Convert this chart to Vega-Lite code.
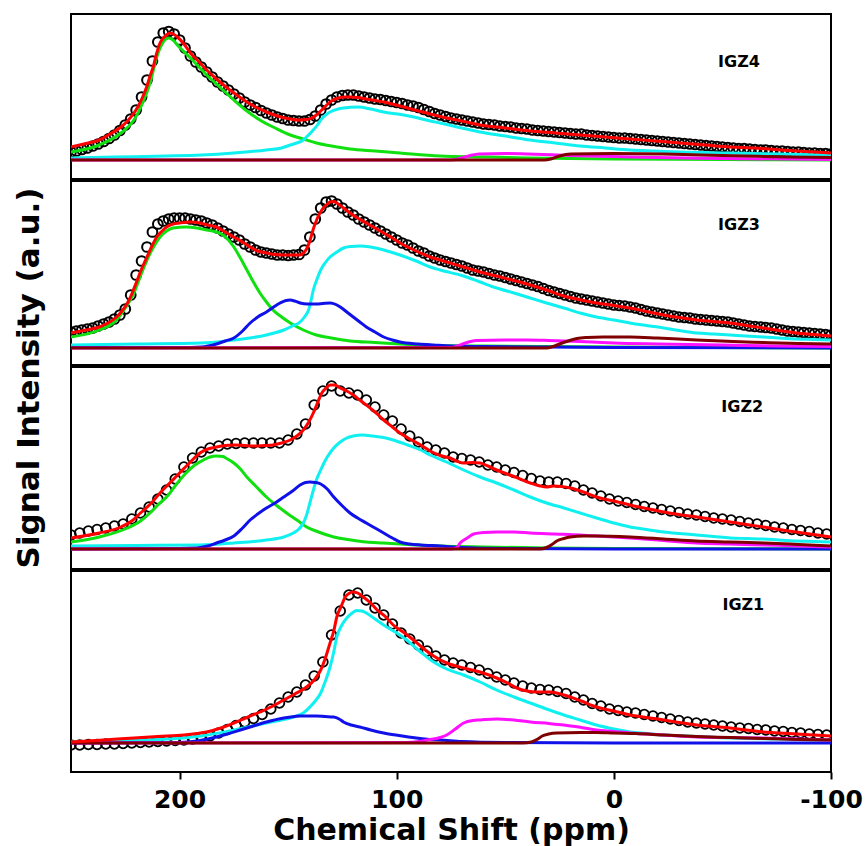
{
"$schema": "https://vega.github.io/schema/vega-lite/v6.json",
"padding": {"left": 11, "top": 13, "right": 0, "bottom": 0},
"background": "white",
"config": {"view": {"stroke": "black", "strokeWidth": 2}, "font": "DejaVu Sans", "axis": {"grid": false, "domain": false}},
"bounds": "flush",
"spacing": 2,
"datasets": {
"o4": [{"x":250,"y":27},{"x":247.5,"y":28},{"x":245,"y":29.5},{"x":242.5,"y":31},{"x":240,"y":33},{"x":237.5,"y":35},{"x":235,"y":37.5},{"x":232.5,"y":40.5},{"x":230,"y":44},{"x":227.5,"y":48.5},{"x":225,"y":54},{"x":222.5,"y":60},{"x":220,"y":69},{"x":217.5,"y":82},{"x":215,"y":99},{"x":212.5,"y":118},{"x":210,"y":137},{"x":207.5,"y":146},{"x":205,"y":147.5},{"x":202.5,"y":145},{"x":200,"y":139},{"x":197.5,"y":131},{"x":195,"y":123},{"x":192.5,"y":117},{"x":190,"y":112},{"x":187.5,"y":107},{"x":185,"y":102},{"x":182.5,"y":97},{"x":180,"y":93},{"x":177.5,"y":89},{"x":175,"y":85},{"x":172.5,"y":81},{"x":170,"y":77},{"x":167.5,"y":74},{"x":165,"y":71.5},{"x":162.5,"y":68.5},{"x":160,"y":66},{"x":157.5,"y":64},{"x":155,"y":62},{"x":152.5,"y":60.5},{"x":150,"y":59},{"x":147.5,"y":58.5},{"x":145,"y":58},{"x":142.5,"y":58},{"x":140,"y":59.5},{"x":137.5,"y":63},{"x":135,"y":69},{"x":132.5,"y":75},{"x":130,"y":79},{"x":127.5,"y":82},{"x":125,"y":83.5},{"x":122.5,"y":84},{"x":120,"y":84},{"x":117.5,"y":83},{"x":115,"y":82},{"x":112.5,"y":81},{"x":110,"y":80},{"x":107.5,"y":79.5},{"x":105,"y":78.5},{"x":102.5,"y":77.5},{"x":100,"y":76.5},{"x":97.5,"y":75.5},{"x":95,"y":74},{"x":92.5,"y":73},{"x":90,"y":71.5},{"x":87.5,"y":69.5},{"x":85,"y":67.5},{"x":82.5,"y":65.5},{"x":80,"y":64},{"x":77.5,"y":62.5},{"x":75,"y":61},{"x":72.5,"y":60},{"x":70,"y":59},{"x":67.5,"y":58},{"x":65,"y":57},{"x":62.5,"y":56},{"x":60,"y":55},{"x":57.5,"y":54.5},{"x":55,"y":54},{"x":52.5,"y":53},{"x":50,"y":52.5},{"x":47.5,"y":52},{"x":45,"y":51},{"x":42.5,"y":50.5},{"x":40,"y":50},{"x":37.5,"y":49},{"x":35,"y":48.5},{"x":32.5,"y":48},{"x":30,"y":47.5},{"x":27.5,"y":47},{"x":25,"y":46.5},{"x":22.5,"y":46},{"x":20,"y":45.5},{"x":17.5,"y":45},{"x":15,"y":45},{"x":12.5,"y":44},{"x":10,"y":43.5},{"x":7.5,"y":43},{"x":5,"y":42.5},{"x":2.5,"y":42},{"x":0,"y":41.5},{"x":-2.5,"y":41},{"x":-5,"y":41},{"x":-7.5,"y":40.5},{"x":-10,"y":40},{"x":-12.5,"y":39.5},{"x":-15,"y":39},{"x":-17.5,"y":38.5},{"x":-20,"y":38},{"x":-22.5,"y":37.5},{"x":-25,"y":37},{"x":-27.5,"y":36.5},{"x":-30,"y":36},{"x":-32.5,"y":35.5},{"x":-35,"y":35},{"x":-37.5,"y":34.5},{"x":-40,"y":34},{"x":-42.5,"y":33.5},{"x":-45,"y":33},{"x":-47.5,"y":32.5},{"x":-50,"y":32},{"x":-52.5,"y":31.5},{"x":-55,"y":31},{"x":-57.5,"y":30.5},{"x":-60,"y":30.5},{"x":-62.5,"y":30},{"x":-65,"y":29.5},{"x":-67.5,"y":29},{"x":-70,"y":29},{"x":-72.5,"y":28.5},{"x":-75,"y":28},{"x":-77.5,"y":28},{"x":-80,"y":27.5},{"x":-82.5,"y":27},{"x":-85,"y":27},{"x":-87.5,"y":26.5},{"x":-90,"y":26},{"x":-92.5,"y":26},{"x":-95,"y":25.5},{"x":-97.5,"y":25.5},{"x":-100,"y":25}],
"l4": [
{"s":"g","x":250,"y":27},{"s":"g","x":237,"y":34},{"s":"g","x":227,"y":46},{"s":"g","x":221,"y":59},{"s":"g","x":217,"y":76},{"s":"g","x":213.6,"y":96},{"s":"g","x":210.5,"y":122},{"s":"g","x":207.5,"y":137},{"s":"g","x":205,"y":141},{"s":"g","x":203,"y":139},{"s":"g","x":201,"y":134},{"s":"g","x":195,"y":121},{"s":"g","x":187.5,"y":104},{"s":"g","x":181,"y":91},{"s":"g","x":175,"y":79},{"s":"g","x":169,"y":68},{"s":"g","x":163,"y":59},{"s":"g","x":156,"y":51},{"s":"g","x":149,"y":44},{"s":"g","x":143,"y":40},{"s":"g","x":137,"y":36},{"s":"g","x":130,"y":33},{"s":"g","x":121.5,"y":30},{"s":"g","x":110,"y":28},{"s":"g","x":98.5,"y":26},{"s":"g","x":80,"y":23},{"s":"g","x":60,"y":22},{"s":"g","x":40,"y":21},{"s":"g","x":0,"y":20},{"s":"g","x":-50,"y":19.5},{"s":"g","x":-100,"y":19},
{"s":"c","x":250,"y":21},{"s":"c","x":230,"y":22},{"s":"c","x":206,"y":23},{"s":"c","x":190,"y":24},{"s":"c","x":175,"y":26},{"s":"c","x":160,"y":29},{"s":"c","x":153,"y":31},{"s":"c","x":149,"y":34},{"s":"c","x":146,"y":36},{"s":"c","x":143,"y":39},{"s":"c","x":140.6,"y":44},{"s":"c","x":138.4,"y":49},{"s":"c","x":136.5,"y":54},{"s":"c","x":135,"y":59},{"s":"c","x":132.8,"y":64},{"s":"c","x":130.7,"y":67},{"s":"c","x":127,"y":70},{"s":"c","x":124.5,"y":71},{"s":"c","x":118,"y":72},{"s":"c","x":112,"y":70},{"s":"c","x":106,"y":67},{"s":"c","x":98,"y":64.5},{"s":"c","x":91,"y":61.5},{"s":"c","x":84.6,"y":58},{"s":"c","x":80,"y":56},{"s":"c","x":70,"y":51},{"s":"c","x":61.6,"y":47},{"s":"c","x":50,"y":43},{"s":"c","x":38.5,"y":39},{"s":"c","x":27,"y":36},{"s":"c","x":15.5,"y":33},{"s":"c","x":4,"y":31},{"s":"c","x":-7.5,"y":29},{"s":"c","x":-19,"y":28},{"s":"c","x":-30.6,"y":27},{"s":"c","x":-53.6,"y":26},{"s":"c","x":-76,"y":25},{"s":"c","x":-100,"y":24},
{"s":"m","x":250,"y":19},{"s":"m","x":75,"y":19},{"s":"m","x":70,"y":21},{"s":"m","x":66,"y":23.5},{"s":"m","x":62,"y":25},{"s":"m","x":50,"y":25.5},{"s":"m","x":40,"y":25},{"s":"m","x":20,"y":23.5},{"s":"m","x":0,"y":22.5},{"s":"m","x":-20,"y":21.5},{"s":"m","x":-50,"y":20.5},{"s":"m","x":-100,"y":19.5},
{"s":"r","x":250,"y":19},{"s":"r","x":32,"y":19},{"s":"r","x":29,"y":20},{"s":"r","x":25,"y":23},{"s":"r","x":20,"y":25},{"s":"r","x":0,"y":25.5},{"s":"r","x":-23,"y":25},{"s":"r","x":-40,"y":24},{"s":"r","x":-60,"y":23},{"s":"r","x":-80,"y":22},{"s":"r","x":-100,"y":21.5},
{"s":"f","x":250,"y":32},{"s":"f","x":244,"y":35},{"s":"f","x":237,"y":39},{"s":"f","x":232,"y":45},{"s":"f","x":227,"y":52},{"s":"f","x":224,"y":58},{"s":"f","x":221,"y":66},{"s":"f","x":219,"y":73},{"s":"f","x":217,"y":82},{"s":"f","x":215,"y":93},{"s":"f","x":213.6,"y":103},{"s":"f","x":212,"y":113},{"s":"f","x":211,"y":122},{"s":"f","x":209,"y":136},{"s":"f","x":207.5,"y":141},{"s":"f","x":206,"y":144},{"s":"f","x":204.4,"y":146},{"s":"f","x":203,"y":145},{"s":"f","x":201,"y":142},{"s":"f","x":198,"y":135},{"s":"f","x":195,"y":126},{"s":"f","x":191,"y":117},{"s":"f","x":187.5,"y":109},{"s":"f","x":183,"y":100},{"s":"f","x":178,"y":91},{"s":"f","x":173,"y":83},{"s":"f","x":169,"y":77},{"s":"f","x":165,"y":72},{"s":"f","x":160,"y":67},{"s":"f","x":155,"y":63},{"s":"f","x":149,"y":60},{"s":"f","x":145,"y":59},{"s":"f","x":141.5,"y":59.5},{"s":"f","x":139,"y":61},{"s":"f","x":137,"y":64},{"s":"f","x":134.5,"y":69},{"s":"f","x":132,"y":74.5},{"s":"f","x":130,"y":78},{"s":"f","x":127.6,"y":80.5},{"s":"f","x":124,"y":82},{"s":"f","x":121.5,"y":82},{"s":"f","x":118,"y":81.5},{"s":"f","x":114,"y":80},{"s":"f","x":106,"y":77},{"s":"f","x":98.5,"y":73},{"s":"f","x":90,"y":68},{"s":"f","x":80,"y":62.5},{"s":"f","x":70,"y":58},{"s":"f","x":61.6,"y":54},{"s":"f","x":50,"y":51},{"s":"f","x":38.5,"y":48},{"s":"f","x":27,"y":46},{"s":"f","x":15.5,"y":44},{"s":"f","x":4,"y":42},{"s":"f","x":-7.5,"y":40},{"s":"f","x":-19,"y":38},{"s":"f","x":-30.6,"y":36},{"s":"f","x":-42,"y":34},{"s":"f","x":-53.6,"y":32},{"s":"f","x":-65,"y":31},{"s":"f","x":-76.6,"y":29},{"s":"f","x":-88,"y":27.5},{"s":"f","x":-100,"y":26}],
"o3": [{"x":250,"y":33},{"x":247.5,"y":34},{"x":245,"y":35},{"x":242.5,"y":36},{"x":240,"y":37},{"x":237.5,"y":39},{"x":235,"y":41},{"x":232.5,"y":43},{"x":230,"y":46},{"x":227.5,"y":50},{"x":225,"y":56},{"x":222.5,"y":70},{"x":220,"y":90},{"x":217.5,"y":104},{"x":215,"y":118},{"x":212.5,"y":133},{"x":210,"y":141},{"x":207.5,"y":144},{"x":205,"y":146},{"x":202.5,"y":147},{"x":200,"y":147},{"x":197.5,"y":147},{"x":195,"y":146},{"x":192.5,"y":145},{"x":190,"y":144},{"x":187.5,"y":142},{"x":185,"y":140},{"x":182.5,"y":137},{"x":180,"y":134},{"x":177.5,"y":131},{"x":175,"y":128},{"x":172.5,"y":125},{"x":170,"y":121},{"x":167.5,"y":118},{"x":165,"y":115},{"x":162.5,"y":113},{"x":160,"y":112},{"x":157.5,"y":111},{"x":155,"y":110},{"x":152.5,"y":110},{"x":150,"y":109.5},{"x":147.5,"y":110},{"x":145,"y":110.5},{"x":142.5,"y":115},{"x":140,"y":128},{"x":137.5,"y":146},{"x":135,"y":157},{"x":132.5,"y":163},{"x":130,"y":164},{"x":127.5,"y":161},{"x":125,"y":157},{"x":122.5,"y":153},{"x":120,"y":150},{"x":117.5,"y":146},{"x":115,"y":143},{"x":112.5,"y":140},{"x":110,"y":137},{"x":107.5,"y":134},{"x":105,"y":131},{"x":102.5,"y":128},{"x":100,"y":125},{"x":97.5,"y":122},{"x":95,"y":120},{"x":92.5,"y":117},{"x":90,"y":114},{"x":87.5,"y":112},{"x":85,"y":109},{"x":82.5,"y":107},{"x":80,"y":105},{"x":77.5,"y":103.5},{"x":75,"y":102},{"x":72.5,"y":100.5},{"x":70,"y":99},{"x":67.5,"y":97},{"x":65,"y":95},{"x":62.5,"y":94},{"x":60,"y":93},{"x":57.5,"y":91.5},{"x":55,"y":90},{"x":52.5,"y":89},{"x":50,"y":87.5},{"x":47.5,"y":86},{"x":45,"y":84.5},{"x":42.5,"y":83},{"x":40,"y":81.5},{"x":37.5,"y":80},{"x":35,"y":78.5},{"x":32.5,"y":76.5},{"x":30,"y":74.5},{"x":27.5,"y":73},{"x":25,"y":71.5},{"x":22.5,"y":70},{"x":20,"y":68.5},{"x":17.5,"y":67},{"x":15,"y":66},{"x":12.5,"y":65},{"x":10,"y":64},{"x":7.5,"y":63},{"x":5,"y":62},{"x":2.5,"y":61},{"x":0,"y":60},{"x":-2.5,"y":59.5},{"x":-5,"y":59},{"x":-7.5,"y":58},{"x":-10,"y":57},{"x":-12.5,"y":55.5},{"x":-15,"y":54},{"x":-17.5,"y":53},{"x":-20,"y":52},{"x":-22.5,"y":51},{"x":-25,"y":50},{"x":-27.5,"y":49},{"x":-30,"y":48},{"x":-32.5,"y":47.5},{"x":-35,"y":47},{"x":-37.5,"y":46},{"x":-40,"y":45.5},{"x":-42.5,"y":45},{"x":-45,"y":44.5},{"x":-47.5,"y":44},{"x":-50,"y":43.5},{"x":-52.5,"y":43},{"x":-55,"y":42},{"x":-57.5,"y":41},{"x":-60,"y":40},{"x":-62.5,"y":39},{"x":-65,"y":38.5},{"x":-67.5,"y":38},{"x":-70,"y":37.5},{"x":-72.5,"y":37},{"x":-75,"y":36},{"x":-77.5,"y":35},{"x":-80,"y":34},{"x":-82.5,"y":33.5},{"x":-85,"y":33},{"x":-87.5,"y":32.5},{"x":-90,"y":32},{"x":-92.5,"y":31.5},{"x":-95,"y":31},{"x":-97.5,"y":30.5},{"x":-100,"y":30}],
"l3": [
{"s":"g","x":250,"y":28},{"s":"g","x":237,"y":35},{"s":"g","x":229,"y":45},{"s":"g","x":225,"y":57},{"s":"g","x":221,"y":72},{"s":"g","x":218,"y":89},{"s":"g","x":215,"y":105},{"s":"g","x":212,"y":118},{"s":"g","x":209,"y":128},{"s":"g","x":206,"y":134},{"s":"g","x":203,"y":137},{"s":"g","x":197,"y":138},{"s":"g","x":192,"y":137},{"s":"g","x":187.5,"y":135},{"s":"g","x":183,"y":133},{"s":"g","x":180,"y":130},{"s":"g","x":177.5,"y":125},{"s":"g","x":175,"y":118},{"s":"g","x":172,"y":107},{"s":"g","x":169,"y":95},{"s":"g","x":166,"y":83},{"s":"g","x":163,"y":72},{"s":"g","x":160,"y":63},{"s":"g","x":157,"y":55},{"s":"g","x":153,"y":48},{"s":"g","x":149,"y":42},{"s":"g","x":143,"y":35},{"s":"g","x":137,"y":30},{"s":"g","x":130,"y":27},{"s":"g","x":121.5,"y":24},{"s":"g","x":110,"y":22.5},{"s":"g","x":98.5,"y":21},{"s":"g","x":83,"y":19.5},{"s":"g","x":60,"y":19},{"s":"g","x":30,"y":18.5},{"s":"g","x":0,"y":18},{"s":"g","x":-100,"y":17},
{"s":"c","x":250,"y":20},{"s":"c","x":220,"y":21},{"s":"c","x":190,"y":22},{"s":"c","x":175,"y":25},{"s":"c","x":167.5,"y":27},{"s":"c","x":160,"y":30},{"s":"c","x":152,"y":35},{"s":"c","x":148,"y":39},{"s":"c","x":144.5,"y":43},{"s":"c","x":142.5,"y":48},{"s":"c","x":140.6,"y":55},{"s":"c","x":139.5,"y":64},{"s":"c","x":138.4,"y":75},{"s":"c","x":136.5,"y":87},{"s":"c","x":135,"y":95},{"s":"c","x":133,"y":102},{"s":"c","x":130.7,"y":108},{"s":"c","x":127.6,"y":113},{"s":"c","x":124.5,"y":117},{"s":"c","x":121,"y":118.5},{"s":"c","x":117,"y":119},{"s":"c","x":112,"y":118},{"s":"c","x":106,"y":115},{"s":"c","x":98.5,"y":110},{"s":"c","x":91,"y":104},{"s":"c","x":84.6,"y":98},{"s":"c","x":80,"y":95},{"s":"c","x":69.2,"y":89},{"s":"c","x":61.6,"y":83},{"s":"c","x":54,"y":77},{"s":"c","x":46,"y":72},{"s":"c","x":38.5,"y":67},{"s":"c","x":31,"y":62},{"s":"c","x":23,"y":57},{"s":"c","x":15.5,"y":52},{"s":"c","x":8,"y":48},{"s":"c","x":0,"y":45},{"s":"c","x":-7.5,"y":42},{"s":"c","x":-15,"y":39.5},{"s":"c","x":-23,"y":37},{"s":"c","x":-30,"y":34.5},{"s":"c","x":-38.2,"y":32},{"s":"c","x":-46,"y":31},{"s":"c","x":-53.6,"y":30},{"s":"c","x":-61,"y":29},{"s":"c","x":-69,"y":28},{"s":"c","x":-76,"y":27},{"s":"c","x":-84,"y":26},{"s":"c","x":-92,"y":25.5},{"s":"c","x":-100,"y":25},
{"s":"b","x":250,"y":17.5},{"s":"b","x":200,"y":17.5},{"s":"b","x":190,"y":18},{"s":"b","x":183,"y":21},{"s":"b","x":179,"y":24},{"s":"b","x":175,"y":27},{"s":"b","x":171,"y":34},{"s":"b","x":167.5,"y":42},{"s":"b","x":164,"y":48},{"s":"b","x":160,"y":53},{"s":"b","x":156,"y":59},{"s":"b","x":153.7,"y":62},{"s":"b","x":151,"y":64.5},{"s":"b","x":149,"y":65},{"s":"b","x":147,"y":64},{"s":"b","x":144.5,"y":62},{"s":"b","x":141,"y":61},{"s":"b","x":137,"y":61},{"s":"b","x":134,"y":61.5},{"s":"b","x":130.7,"y":62},{"s":"b","x":128,"y":60.5},{"s":"b","x":126,"y":58},{"s":"b","x":123,"y":53},{"s":"b","x":120,"y":48},{"s":"b","x":117,"y":43},{"s":"b","x":114,"y":38},{"s":"b","x":110,"y":33},{"s":"b","x":106,"y":28},{"s":"b","x":102,"y":25},{"s":"b","x":98.5,"y":23},{"s":"b","x":90,"y":21},{"s":"b","x":83,"y":20},{"s":"b","x":75,"y":19},{"s":"b","x":60,"y":18.5},{"s":"b","x":30,"y":18},{"s":"b","x":0,"y":17.5},{"s":"b","x":-100,"y":17},
{"s":"m","x":250,"y":17},{"s":"m","x":75,"y":17.5},{"s":"m","x":72,"y":19},{"s":"m","x":69,"y":21.5},{"s":"m","x":66,"y":23.5},{"s":"m","x":63,"y":24.5},{"s":"m","x":50,"y":25},{"s":"m","x":40,"y":25},{"s":"m","x":30,"y":24.5},{"s":"m","x":23,"y":24},{"s":"m","x":10,"y":23},{"s":"m","x":0,"y":22},{"s":"m","x":-20,"y":21},{"s":"m","x":-50,"y":20},{"s":"m","x":-75,"y":19},{"s":"m","x":-100,"y":18.5},
{"s":"r","x":250,"y":17},{"s":"r","x":31,"y":17},{"s":"r","x":28,"y":18.5},{"s":"r","x":25,"y":21},{"s":"r","x":21,"y":24},{"s":"r","x":17,"y":26.5},{"s":"r","x":12.5,"y":27.5},{"s":"r","x":5,"y":28},{"s":"r","x":-7.5,"y":28},{"s":"r","x":-20,"y":27},{"s":"r","x":-38,"y":25},{"s":"r","x":-55,"y":23.5},{"s":"r","x":-69,"y":22.5},{"s":"r","x":-85,"y":21.5},{"s":"r","x":-100,"y":21},
{"s":"f","x":250,"y":32},{"s":"f","x":243,"y":35},{"s":"f","x":237,"y":38},{"s":"f","x":233,"y":42},{"s":"f","x":229,"y":48},{"s":"f","x":226.5,"y":54},{"s":"f","x":224,"y":62},{"s":"f","x":222,"y":71},{"s":"f","x":220,"y":82},{"s":"f","x":217.5,"y":96},{"s":"f","x":215,"y":108},{"s":"f","x":212.5,"y":120},{"s":"f","x":210.5,"y":128},{"s":"f","x":208,"y":134},{"s":"f","x":206,"y":138},{"s":"f","x":203,"y":141},{"s":"f","x":200,"y":142},{"s":"f","x":195,"y":143},{"s":"f","x":190.6,"y":142},{"s":"f","x":187,"y":140},{"s":"f","x":183,"y":138},{"s":"f","x":179,"y":133},{"s":"f","x":175,"y":128},{"s":"f","x":171,"y":123},{"s":"f","x":167.5,"y":118},{"s":"f","x":164,"y":114},{"s":"f","x":160,"y":112},{"s":"f","x":156,"y":110.5},{"s":"f","x":152,"y":110},{"s":"f","x":148,"y":110},{"s":"f","x":144.5,"y":110},{"s":"f","x":142.5,"y":113},{"s":"f","x":141.5,"y":116},{"s":"f","x":140,"y":124},{"s":"f","x":138.4,"y":136},{"s":"f","x":136.5,"y":147},{"s":"f","x":134.5,"y":155},{"s":"f","x":132.5,"y":160},{"s":"f","x":130.7,"y":163},{"s":"f","x":129,"y":163.5},{"s":"f","x":127.6,"y":162},{"s":"f","x":124.5,"y":157},{"s":"f","x":121.5,"y":152},{"s":"f","x":118,"y":147},{"s":"f","x":114,"y":142},{"s":"f","x":110,"y":137},{"s":"f","x":106,"y":132},{"s":"f","x":102,"y":127},{"s":"f","x":98.5,"y":122},{"s":"f","x":94,"y":117},{"s":"f","x":89,"y":112},{"s":"f","x":84.6,"y":108},{"s":"f","x":80,"y":105},{"s":"f","x":69.2,"y":98},{"s":"f","x":61.6,"y":93},{"s":"f","x":54,"y":89},{"s":"f","x":46,"y":84.5},{"s":"f","x":38.5,"y":80},{"s":"f","x":31,"y":75},{"s":"f","x":23,"y":69},{"s":"f","x":15,"y":65},{"s":"f","x":8,"y":62},{"s":"f","x":0,"y":59.5},{"s":"f","x":-7.5,"y":57},{"s":"f","x":-15,"y":53.5},{"s":"f","x":-23,"y":50},{"s":"f","x":-30,"y":47.5},{"s":"f","x":-38.2,"y":45},{"s":"f","x":-46,"y":43.5},{"s":"f","x":-53.6,"y":42},{"s":"f","x":-61,"y":39.5},{"s":"f","x":-69,"y":37},{"s":"f","x":-76,"y":34.5},{"s":"f","x":-84,"y":32},{"s":"f","x":-92,"y":30.5},{"s":"f","x":-100,"y":29}],
"o2": [{"x":250,"y":34},{"x":246,"y":36},{"x":242,"y":38},{"x":238,"y":39.5},{"x":234,"y":41},{"x":230,"y":43},{"x":226,"y":45},{"x":222,"y":50},{"x":218,"y":56},{"x":214,"y":62},{"x":210,"y":70},{"x":206,"y":79},{"x":202,"y":90},{"x":198,"y":102},{"x":194,"y":111},{"x":190,"y":117},{"x":186,"y":121},{"x":182,"y":123},{"x":178,"y":125},{"x":174,"y":125.5},{"x":170,"y":126},{"x":166,"y":126},{"x":162,"y":126},{"x":158,"y":126},{"x":154,"y":126},{"x":150,"y":129},{"x":146,"y":135},{"x":142,"y":145},{"x":138,"y":164},{"x":134,"y":178},{"x":130,"y":183},{"x":126,"y":178},{"x":122,"y":176},{"x":118,"y":174},{"x":114,"y":169},{"x":110,"y":162},{"x":106,"y":154},{"x":102,"y":148},{"x":98,"y":140},{"x":94,"y":133},{"x":90,"y":127},{"x":86,"y":122},{"x":82,"y":119},{"x":78,"y":116},{"x":74,"y":112},{"x":70,"y":110.5},{"x":66,"y":109},{"x":62,"y":107},{"x":58,"y":104},{"x":54,"y":102},{"x":50,"y":99},{"x":46,"y":96.5},{"x":42,"y":93.5},{"x":38,"y":90.5},{"x":34,"y":88},{"x":30,"y":87},{"x":26,"y":87},{"x":22,"y":85.5},{"x":18,"y":83},{"x":14,"y":79},{"x":10,"y":76},{"x":6,"y":73},{"x":2,"y":70},{"x":-2,"y":68},{"x":-6,"y":66.5},{"x":-10,"y":64.5},{"x":-14,"y":62.5},{"x":-18,"y":61},{"x":-22,"y":59.5},{"x":-26,"y":58},{"x":-30,"y":56.5},{"x":-34,"y":55},{"x":-38,"y":54},{"x":-42,"y":52.5},{"x":-46,"y":51},{"x":-50,"y":50},{"x":-54,"y":49},{"x":-58,"y":47.5},{"x":-62,"y":46},{"x":-66,"y":45},{"x":-70,"y":43.5},{"x":-74,"y":42},{"x":-78,"y":41},{"x":-82,"y":39.5},{"x":-86,"y":38.5},{"x":-90,"y":37.5},{"x":-94,"y":36},{"x":-98,"y":35}],
"l2": [
{"s":"g","x":250,"y":27},{"s":"g","x":237,"y":32},{"s":"g","x":224,"y":41},{"s":"g","x":218,"y":48},{"s":"g","x":213.6,"y":56},{"s":"g","x":210,"y":64},{"s":"g","x":206,"y":72},{"s":"g","x":201,"y":86},{"s":"g","x":197,"y":96},{"s":"g","x":193,"y":104},{"s":"g","x":189,"y":109},{"s":"g","x":186,"y":112},{"s":"g","x":183,"y":113},{"s":"g","x":180,"y":112.5},{"s":"g","x":178.7,"y":111},{"s":"g","x":175,"y":106},{"s":"g","x":172,"y":100},{"s":"g","x":169,"y":92},{"s":"g","x":165,"y":83},{"s":"g","x":160,"y":72},{"s":"g","x":155,"y":63},{"s":"g","x":150.7,"y":56},{"s":"g","x":146,"y":49},{"s":"g","x":141.5,"y":42},{"s":"g","x":136,"y":37},{"s":"g","x":129,"y":32},{"s":"g","x":121,"y":29},{"s":"g","x":114,"y":27},{"s":"g","x":106,"y":26},{"s":"g","x":98.5,"y":25},{"s":"g","x":80,"y":23},{"s":"g","x":60,"y":22},{"s":"g","x":30,"y":21},{"s":"g","x":0,"y":20.5},{"s":"g","x":-100,"y":20},
{"s":"c","x":250,"y":23},{"s":"c","x":220,"y":23.5},{"s":"c","x":190.6,"y":24},{"s":"c","x":175,"y":26},{"s":"c","x":160,"y":29},{"s":"c","x":152,"y":32},{"s":"c","x":147.6,"y":36},{"s":"c","x":145,"y":40},{"s":"c","x":143,"y":46},{"s":"c","x":141.5,"y":54},{"s":"c","x":140,"y":66},{"s":"c","x":138.5,"y":78},{"s":"c","x":137,"y":89},{"s":"c","x":135,"y":99},{"s":"c","x":133.5,"y":106},{"s":"c","x":132,"y":112},{"s":"c","x":129,"y":121},{"s":"c","x":126,"y":127},{"s":"c","x":123,"y":131},{"s":"c","x":120,"y":133},{"s":"c","x":116,"y":134},{"s":"c","x":111,"y":133},{"s":"c","x":106,"y":131.5},{"s":"c","x":101.6,"y":129},{"s":"c","x":95,"y":124},{"s":"c","x":89,"y":119},{"s":"c","x":84.6,"y":114},{"s":"c","x":77,"y":107},{"s":"c","x":69.2,"y":99},{"s":"c","x":61.6,"y":92},{"s":"c","x":54,"y":86},{"s":"c","x":46,"y":79},{"s":"c","x":38.5,"y":72},{"s":"c","x":31,"y":66},{"s":"c","x":23,"y":61},{"s":"c","x":15.5,"y":56},{"s":"c","x":8,"y":51},{"s":"c","x":0,"y":46},{"s":"c","x":-7.5,"y":42},{"s":"c","x":-15,"y":39.5},{"s":"c","x":-23,"y":37},{"s":"c","x":-30,"y":35.5},{"s":"c","x":-38.2,"y":34},{"s":"c","x":-46,"y":32.5},{"s":"c","x":-53.6,"y":31},{"s":"c","x":-61,"y":30.5},{"s":"c","x":-69,"y":30},{"s":"c","x":-76,"y":29},{"s":"c","x":-84,"y":28},{"s":"c","x":-92,"y":27.5},{"s":"c","x":-100,"y":27},
{"s":"b","x":250,"y":20},{"s":"b","x":200,"y":20.5},{"s":"b","x":192,"y":21},{"s":"b","x":187,"y":23},{"s":"b","x":183,"y":26},{"s":"b","x":179,"y":29},{"s":"b","x":175,"y":33},{"s":"b","x":171,"y":41},{"s":"b","x":167.5,"y":49},{"s":"b","x":164,"y":55},{"s":"b","x":160,"y":61},{"s":"b","x":156,"y":66},{"s":"b","x":152,"y":72},{"s":"b","x":148,"y":78},{"s":"b","x":144.5,"y":84},{"s":"b","x":142,"y":86.5},{"s":"b","x":140,"y":87},{"s":"b","x":137.5,"y":86.5},{"s":"b","x":135,"y":85},{"s":"b","x":132,"y":80},{"s":"b","x":129,"y":72},{"s":"b","x":125,"y":63},{"s":"b","x":121.5,"y":56},{"s":"b","x":118,"y":51},{"s":"b","x":114,"y":46},{"s":"b","x":110,"y":41},{"s":"b","x":106,"y":36},{"s":"b","x":102,"y":31},{"s":"b","x":98.5,"y":27},{"s":"b","x":94,"y":25},{"s":"b","x":89,"y":24},{"s":"b","x":80,"y":23},{"s":"b","x":70,"y":21.5},{"s":"b","x":50,"y":20.5},{"s":"b","x":0,"y":20},{"s":"b","x":-100,"y":20},
{"s":"m","x":250,"y":20},{"s":"m","x":75,"y":20},{"s":"m","x":72.5,"y":21},{"s":"m","x":70.8,"y":26},{"s":"m","x":67.5,"y":31},{"s":"m","x":64.6,"y":35},{"s":"m","x":60,"y":36.5},{"s":"m","x":54,"y":37},{"s":"m","x":46,"y":37},{"s":"m","x":38.5,"y":36},{"s":"m","x":27,"y":35},{"s":"m","x":15.5,"y":34},{"s":"m","x":4,"y":32.5},{"s":"m","x":-7.5,"y":31},{"s":"m","x":-23,"y":28.5},{"s":"m","x":-38,"y":26},{"s":"m","x":-53,"y":25},{"s":"m","x":-69,"y":24},{"s":"m","x":-85,"y":23},{"s":"m","x":-100,"y":22},
{"s":"r","x":250,"y":20},{"s":"r","x":34,"y":20},{"s":"r","x":31,"y":21.5},{"s":"r","x":28.5,"y":24.5},{"s":"r","x":26.3,"y":28},{"s":"r","x":23,"y":30.5},{"s":"r","x":20,"y":32},{"s":"r","x":14,"y":33},{"s":"r","x":8,"y":33},{"s":"r","x":-7.5,"y":32},{"s":"r","x":-23,"y":30},{"s":"r","x":-38,"y":28},{"s":"r","x":-53,"y":27},{"s":"r","x":-69,"y":26},{"s":"r","x":-85,"y":24.5},{"s":"r","x":-100,"y":23},
{"s":"f","x":250,"y":31},{"s":"f","x":237,"y":36},{"s":"f","x":227,"y":42},{"s":"f","x":222,"y":48},{"s":"f","x":218,"y":56},{"s":"f","x":213,"y":66},{"s":"f","x":209,"y":76},{"s":"f","x":204.5,"y":86},{"s":"f","x":200,"y":96},{"s":"f","x":195,"y":107},{"s":"f","x":190.6,"y":116},{"s":"f","x":187,"y":120},{"s":"f","x":183,"y":122},{"s":"f","x":179,"y":123.5},{"s":"f","x":175,"y":124},{"s":"f","x":170,"y":123.5},{"s":"f","x":166,"y":123},{"s":"f","x":161,"y":123.5},{"s":"f","x":157,"y":124},{"s":"f","x":153,"y":126},{"s":"f","x":149,"y":129},{"s":"f","x":146,"y":133},{"s":"f","x":143,"y":139},{"s":"f","x":140.5,"y":147},{"s":"f","x":138.4,"y":156},{"s":"f","x":136.5,"y":166},{"s":"f","x":134.5,"y":176},{"s":"f","x":132.5,"y":181},{"s":"f","x":130.7,"y":184},{"s":"f","x":128.5,"y":184},{"s":"f","x":126,"y":181},{"s":"f","x":123,"y":178},{"s":"f","x":120,"y":174},{"s":"f","x":117,"y":169},{"s":"f","x":114,"y":164},{"s":"f","x":110,"y":157},{"s":"f","x":106,"y":149},{"s":"f","x":102,"y":142},{"s":"f","x":98.5,"y":136},{"s":"f","x":94,"y":130},{"s":"f","x":89,"y":124},{"s":"f","x":84.6,"y":118},{"s":"f","x":80,"y":113.5},{"s":"f","x":75.4,"y":111},{"s":"f","x":72,"y":107.5},{"s":"f","x":69.2,"y":106},{"s":"f","x":65,"y":106.5},{"s":"f","x":61.6,"y":106},{"s":"f","x":58,"y":103},{"s":"f","x":54,"y":99},{"s":"f","x":46,"y":92.5},{"s":"f","x":38.5,"y":86},{"s":"f","x":34,"y":83},{"s":"f","x":31,"y":82},{"s":"f","x":27.8,"y":83},{"s":"f","x":24,"y":82.5},{"s":"f","x":20,"y":81},{"s":"f","x":14,"y":77},{"s":"f","x":8,"y":72},{"s":"f","x":0,"y":68},{"s":"f","x":-7.5,"y":64},{"s":"f","x":-15,"y":60.5},{"s":"f","x":-23,"y":57},{"s":"f","x":-30,"y":54.5},{"s":"f","x":-38.2,"y":52},{"s":"f","x":-46,"y":49.5},{"s":"f","x":-53.6,"y":47},{"s":"f","x":-61,"y":44.5},{"s":"f","x":-69,"y":42},{"s":"f","x":-76,"y":39.5},{"s":"f","x":-84,"y":37},{"s":"f","x":-92,"y":34.5},{"s":"f","x":-100,"y":32}],
"o1": [{"x":250,"y":27},{"x":246,"y":27},{"x":242,"y":27.5},{"x":238,"y":27.5},{"x":234,"y":28},{"x":230,"y":28},{"x":226,"y":28.5},{"x":222,"y":29},{"x":218,"y":29.5},{"x":214,"y":30},{"x":210,"y":30.5},{"x":206,"y":31},{"x":202,"y":31.5},{"x":198,"y":32},{"x":194,"y":33},{"x":190,"y":34},{"x":186,"y":36},{"x":182,"y":39},{"x":178,"y":42.5},{"x":174,"y":46.5},{"x":170,"y":50},{"x":166,"y":53.5},{"x":162,"y":57.5},{"x":158,"y":63},{"x":154,"y":69},{"x":150,"y":75},{"x":146,"y":80},{"x":142,"y":87},{"x":138,"y":96},{"x":134,"y":110},{"x":130,"y":137},{"x":126,"y":161},{"x":122,"y":177},{"x":118,"y":179},{"x":114,"y":172},{"x":110,"y":164},{"x":106,"y":157},{"x":102,"y":148},{"x":98,"y":139},{"x":94,"y":133},{"x":90,"y":127},{"x":86,"y":121},{"x":82,"y":116},{"x":78,"y":112},{"x":74,"y":109},{"x":70,"y":107},{"x":66,"y":104.5},{"x":62,"y":102},{"x":58,"y":98.5},{"x":54,"y":95},{"x":50,"y":92},{"x":46,"y":89},{"x":42,"y":86},{"x":38,"y":84},{"x":34,"y":82.5},{"x":30,"y":82},{"x":26,"y":80.5},{"x":22,"y":78.5},{"x":18,"y":75},{"x":14,"y":72},{"x":10,"y":68.5},{"x":6,"y":66},{"x":2,"y":63},{"x":-2,"y":61.5},{"x":-6,"y":60},{"x":-10,"y":59},{"x":-14,"y":57.5},{"x":-18,"y":56},{"x":-22,"y":54.5},{"x":-26,"y":53},{"x":-30,"y":51.5},{"x":-34,"y":50},{"x":-38,"y":49},{"x":-42,"y":48},{"x":-46,"y":47},{"x":-50,"y":46},{"x":-54,"y":45},{"x":-58,"y":44},{"x":-62,"y":43.5},{"x":-66,"y":42.5},{"x":-70,"y":42},{"x":-74,"y":41},{"x":-78,"y":40.5},{"x":-82,"y":39.5},{"x":-86,"y":39},{"x":-90,"y":38},{"x":-94,"y":37.5},{"x":-98,"y":37}],
"l1": [
{"s":"c","x":250,"y":30},{"s":"c","x":230,"y":31},{"s":"c","x":210,"y":32.5},{"s":"c","x":198,"y":34},{"s":"c","x":190,"y":36},{"s":"c","x":175,"y":42},{"s":"c","x":167.5,"y":45.5},{"s":"c","x":160,"y":49},{"s":"c","x":153,"y":52},{"s":"c","x":147.6,"y":55},{"s":"c","x":143,"y":59},{"s":"c","x":140,"y":65},{"s":"c","x":137.5,"y":71},{"s":"c","x":135,"y":79},{"s":"c","x":133,"y":90},{"s":"c","x":130.7,"y":105},{"s":"c","x":129,"y":120},{"s":"c","x":127.6,"y":135},{"s":"c","x":125.5,"y":146},{"s":"c","x":123,"y":154},{"s":"c","x":120.5,"y":159},{"s":"c","x":118.4,"y":161.5},{"s":"c","x":116,"y":161},{"s":"c","x":114,"y":159},{"s":"c","x":110,"y":153},{"s":"c","x":106,"y":147},{"s":"c","x":100,"y":139},{"s":"c","x":95.4,"y":132},{"s":"c","x":89,"y":120},{"s":"c","x":83,"y":110},{"s":"c","x":77,"y":103},{"s":"c","x":69.2,"y":97},{"s":"c","x":61.6,"y":90},{"s":"c","x":54,"y":82},{"s":"c","x":46,"y":75},{"s":"c","x":38.5,"y":69},{"s":"c","x":31,"y":63},{"s":"c","x":23,"y":57},{"s":"c","x":15.5,"y":52},{"s":"c","x":8,"y":47},{"s":"c","x":0,"y":43},{"s":"c","x":-7.5,"y":40},{"s":"c","x":-15,"y":38.5},{"s":"c","x":-23,"y":37},{"s":"c","x":-38,"y":35.5},{"s":"c","x":-53.6,"y":34},{"s":"c","x":-76,"y":33},{"s":"c","x":-100,"y":32},
{"s":"b","x":250,"y":29},{"s":"b","x":200,"y":29.5},{"s":"b","x":192,"y":31},{"s":"b","x":185,"y":34},{"s":"b","x":178,"y":38},{"s":"b","x":172,"y":42},{"s":"b","x":167.5,"y":45},{"s":"b","x":160,"y":50},{"s":"b","x":152,"y":54},{"s":"b","x":147,"y":55.5},{"s":"b","x":144.5,"y":56},{"s":"b","x":140,"y":56},{"s":"b","x":137,"y":56},{"s":"b","x":133,"y":55.5},{"s":"b","x":129,"y":55},{"s":"b","x":126.5,"y":53},{"s":"b","x":124.5,"y":50},{"s":"b","x":121,"y":47},{"s":"b","x":117,"y":45},{"s":"b","x":112,"y":42},{"s":"b","x":106,"y":39},{"s":"b","x":99,"y":36.5},{"s":"b","x":91,"y":34},{"s":"b","x":85,"y":32.5},{"s":"b","x":80,"y":32},{"s":"b","x":70,"y":30.5},{"s":"b","x":50,"y":29.5},{"s":"b","x":0,"y":29},{"s":"b","x":-100,"y":29},
{"s":"m","x":250,"y":29},{"s":"m","x":95,"y":29.5},{"s":"m","x":88,"y":31},{"s":"m","x":84.6,"y":32.5},{"s":"m","x":80,"y":34.5},{"s":"m","x":77,"y":37},{"s":"m","x":73,"y":43},{"s":"m","x":69.2,"y":49},{"s":"m","x":65,"y":51.5},{"s":"m","x":61.6,"y":52},{"s":"m","x":54,"y":53},{"s":"m","x":46,"y":52},{"s":"m","x":38.5,"y":50},{"s":"m","x":30,"y":48.5},{"s":"m","x":23,"y":47},{"s":"m","x":15,"y":44.5},{"s":"m","x":8,"y":42},{"s":"m","x":0,"y":40.5},{"s":"m","x":-7.5,"y":39},{"s":"m","x":-23,"y":37},{"s":"m","x":-38,"y":35},{"s":"m","x":-53,"y":34.5},{"s":"m","x":-69,"y":34},{"s":"m","x":-85,"y":33},{"s":"m","x":-100,"y":32},
{"s":"r","x":250,"y":29},{"s":"r","x":42,"y":29},{"s":"r","x":38,"y":30},{"s":"r","x":35,"y":33},{"s":"r","x":33,"y":36},{"s":"r","x":30,"y":38},{"s":"r","x":26.3,"y":39},{"s":"r","x":15,"y":39.5},{"s":"r","x":8,"y":39.5},{"s":"r","x":0,"y":39},{"s":"r","x":-10,"y":38.5},{"s":"r","x":-23,"y":37},{"s":"r","x":-38,"y":35.5},{"s":"r","x":-53.6,"y":34.5},{"s":"r","x":-69,"y":33.5},{"s":"r","x":-85,"y":32.5},{"s":"r","x":-100,"y":32},
{"s":"f","x":250,"y":30},{"s":"f","x":235,"y":32},{"s":"f","x":221,"y":34},{"s":"f","x":210,"y":35.5},{"s":"f","x":198,"y":37},{"s":"f","x":192,"y":38.5},{"s":"f","x":187.5,"y":40},{"s":"f","x":181,"y":44},{"s":"f","x":175,"y":49},{"s":"f","x":169,"y":54.5},{"s":"f","x":163,"y":60},{"s":"f","x":157,"y":66},{"s":"f","x":152,"y":72},{"s":"f","x":147,"y":78},{"s":"f","x":141.5,"y":85},{"s":"f","x":138,"y":92},{"s":"f","x":135,"y":102},{"s":"f","x":133,"y":113},{"s":"f","x":130.7,"y":129},{"s":"f","x":129,"y":141},{"s":"f","x":127.6,"y":155},{"s":"f","x":125.5,"y":166},{"s":"f","x":123.7,"y":175},{"s":"f","x":122,"y":178.5},{"s":"f","x":120,"y":180},{"s":"f","x":118,"y":179},{"s":"f","x":115.4,"y":175},{"s":"f","x":112,"y":169},{"s":"f","x":109,"y":162},{"s":"f","x":105,"y":155},{"s":"f","x":101.6,"y":147},{"s":"f","x":97,"y":140},{"s":"f","x":92.3,"y":132},{"s":"f","x":88,"y":124},{"s":"f","x":83,"y":116},{"s":"f","x":77,"y":109},{"s":"f","x":69.2,"y":104},{"s":"f","x":61.6,"y":100},{"s":"f","x":54,"y":94},{"s":"f","x":49,"y":89},{"s":"f","x":44.7,"y":84},{"s":"f","x":40,"y":81},{"s":"f","x":35.5,"y":80},{"s":"f","x":29.3,"y":80},{"s":"f","x":23,"y":77},{"s":"f","x":15,"y":71},{"s":"f","x":8,"y":65},{"s":"f","x":0,"y":61},{"s":"f","x":-7.5,"y":57},{"s":"f","x":-15,"y":54.5},{"s":"f","x":-23,"y":52},{"s":"f","x":-30,"y":49.5},{"s":"f","x":-38.2,"y":47},{"s":"f","x":-46,"y":45.5},{"s":"f","x":-53.6,"y":44},{"s":"f","x":-61,"y":42},{"s":"f","x":-69,"y":40},{"s":"f","x":-76,"y":39},{"s":"f","x":-84,"y":38},{"s":"f","x":-92,"y":37},{"s":"f","x":-100,"y":36}]
},
"vconcat": [
{"width": 760, "height": 165,
 "encoding": {"x": {"field": "x", "type": "quantitative", "scale": {"domain": [-100, 250], "reverse": true, "nice": false, "zero": false}, "axis": null},
              "y": {"field": "y", "type": "quantitative", "scale": {"domain": [0, 165], "nice": false, "zero": false}, "axis": null}},
 "layer": [
  {"data": {"name": "o4"}, "mark": {"type": "point", "shape": "circle", "filled": false, "color": "black", "strokeWidth": 2, "size": 95, "opacity": 1, "clip": true}},
  {"data": {"name": "l4"}, "transform": [{"filter": "datum.s !== 'f'"}], "mark": {"type": "line", "strokeWidth": 3, "interpolate": "monotone", "clip": true},
   "encoding": {"color": {"field": "s", "type": "nominal", "scale": {"domain": ["g", "c", "b", "m", "r"], "range": ["#10e010", "#10f0f0", "#1010e8", "#ff10ff", "#800000"]}, "legend": null}}},
  {"data": {"name": "l4"}, "transform": [{"filter": "datum.s === 'f'"}], "mark": {"type": "line", "strokeWidth": 3, "color": "#ff0000", "interpolate": "monotone", "clip": true}},
  {"data": {"values": [{"x": -48, "y": 117, "t": "IGZ4"}]}, "mark": {"type": "text", "align": "left", "baseline": "middle", "fontSize": 16, "fontWeight": "bold", "font": "DejaVu Sans", "color": "black"}, "encoding": {"text": {"field": "t"}}}
 ]},
{"width": 760, "height": 184,
 "encoding": {"x": {"field": "x", "type": "quantitative", "scale": {"domain": [-100, 250], "reverse": true, "nice": false, "zero": false}, "axis": null},
              "y": {"field": "y", "type": "quantitative", "scale": {"domain": [0, 184], "nice": false, "zero": false}, "axis": null}},
 "layer": [
  {"data": {"name": "o3"}, "mark": {"type": "point", "shape": "circle", "filled": false, "color": "black", "strokeWidth": 2, "size": 95, "opacity": 1, "clip": true}},
  {"data": {"name": "l3"}, "transform": [{"filter": "datum.s !== 'f'"}], "mark": {"type": "line", "strokeWidth": 3, "interpolate": "monotone", "clip": true},
   "encoding": {"color": {"field": "s", "type": "nominal", "scale": {"domain": ["g", "c", "b", "m", "r"], "range": ["#10e010", "#10f0f0", "#1010e8", "#ff10ff", "#800000"]}, "legend": null}}},
  {"data": {"name": "l3"}, "transform": [{"filter": "datum.s === 'f'"}], "mark": {"type": "line", "strokeWidth": 3, "color": "#ff0000", "interpolate": "monotone", "clip": true}},
  {"data": {"values": [{"x": -48, "y": 140, "t": "IGZ3"}]}, "mark": {"type": "text", "align": "left", "baseline": "middle", "fontSize": 16, "fontWeight": "bold", "font": "DejaVu Sans", "color": "black"}, "encoding": {"text": {"field": "t"}}}
 ]},
{"width": 760, "height": 202,
 "encoding": {"x": {"field": "x", "type": "quantitative", "scale": {"domain": [-100, 250], "reverse": true, "nice": false, "zero": false}, "axis": null},
              "y": {"field": "y", "type": "quantitative", "scale": {"domain": [0, 202], "nice": false, "zero": false},
                    "axis": {"title": "Signal Intensity (a.u.)", "labels": false, "ticks": false, "domain": false, "grid": false, "titleFontSize": 31, "titleFontWeight": "bold", "titleFont": "DejaVu Sans", "titleColor": "black", "titleAngle": -90, "titleAlign": "center", "titleBaseline": "alphabetic", "titleX": -33, "titleY": 10.5}}},
 "layer": [
  {"data": {"name": "o2"}, "mark": {"type": "point", "shape": "circle", "filled": false, "color": "black", "strokeWidth": 1.8, "size": 95, "opacity": 1, "clip": true}},
  {"data": {"name": "l2"}, "transform": [{"filter": "datum.s !== 'f'"}], "mark": {"type": "line", "strokeWidth": 3, "interpolate": "monotone", "clip": true},
   "encoding": {"color": {"field": "s", "type": "nominal", "scale": {"domain": ["g", "c", "b", "m", "r"], "range": ["#10e010", "#10f0f0", "#1010e8", "#ff10ff", "#800000"]}, "legend": null}}},
  {"data": {"name": "l2"}, "transform": [{"filter": "datum.s === 'f'"}], "mark": {"type": "line", "strokeWidth": 3, "color": "#ff0000", "interpolate": "monotone", "clip": true}},
  {"data": {"values": [{"x": -49.5, "y": 162, "t": "IGZ2"}]}, "mark": {"type": "text", "align": "left", "baseline": "middle", "fontSize": 16, "fontWeight": "bold", "font": "DejaVu Sans", "color": "black"}, "encoding": {"text": {"field": "t"}}}
 ]},
{"width": 760, "height": 201,
 "encoding": {"x": {"field": "x", "type": "quantitative", "scale": {"domain": [-100, 250], "reverse": true, "nice": false, "zero": false},
                    "axis": {"values": [200, 100, 0, -100], "labelExpr": "'' + datum.value", "title": "Chemical Shift (ppm)", "labelFontSize": 25, "labelFontWeight": "bold", "labelFont": "DejaVu Sans", "labelColor": "black", "labelBaseline": "alphabetic", "labelPadding": 28, "labelFlush": false, "labelOverlap": false, "ticks": true, "tickSize": 7, "tickWidth": 2, "tickColor": "black", "domain": false, "grid": false, "titleFontSize": 30, "titleFontWeight": "bold", "titleFont": "DejaVu Sans", "titleColor": "black", "titleBaseline": "alphabetic", "titleY": 67}},
              "y": {"field": "y", "type": "quantitative", "scale": {"domain": [0, 201], "nice": false, "zero": false}, "axis": null}},
 "layer": [
  {"data": {"name": "o1"}, "mark": {"type": "point", "shape": "circle", "filled": false, "color": "black", "strokeWidth": 1.8, "size": 95, "opacity": 1, "clip": true}},
  {"data": {"name": "l1"}, "transform": [{"filter": "datum.s !== 'f'"}], "mark": {"type": "line", "strokeWidth": 3, "interpolate": "monotone", "clip": true},
   "encoding": {"color": {"field": "s", "type": "nominal", "scale": {"domain": ["g", "c", "b", "m", "r"], "range": ["#10e010", "#10f0f0", "#1010e8", "#ff10ff", "#800000"]}, "legend": null}}},
  {"data": {"name": "l1"}, "transform": [{"filter": "datum.s === 'f'"}], "mark": {"type": "line", "strokeWidth": 3, "color": "#ff0000", "interpolate": "monotone", "clip": true}},
  {"data": {"values": [{"x": -50, "y": 167.5, "t": "IGZ1"}]}, "mark": {"type": "text", "align": "left", "baseline": "middle", "fontSize": 16, "fontWeight": "bold", "font": "DejaVu Sans", "color": "black"}, "encoding": {"text": {"field": "t"}}}
 ]}
]
}
